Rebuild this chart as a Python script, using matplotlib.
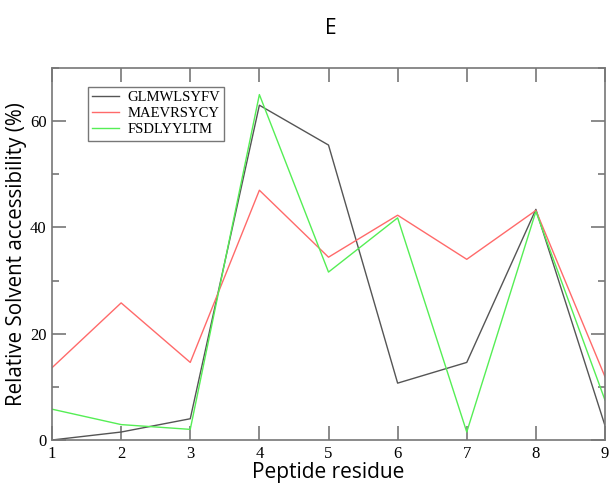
import matplotlib
matplotlib.use("Agg")
import matplotlib.pyplot as plt
from matplotlib.ticker import MultipleLocator

residues = [1, 2, 3, 4, 5, 6, 7, 8, 9]
glmwlsyfv = [0.0, 1.5, 4.0, 63.0, 55.5, 10.7, 14.6, 43.4, 2.7]
maevrsycy = [13.6, 25.8, 14.6, 47.0, 34.4, 42.3, 34.0, 43.2, 11.9]
fsdlyyltm = [5.8, 2.9, 2.0, 65.0, 31.6, 41.8, 1.5, 43.0, 7.5]
series_names = ["GLMWLSYFV", "MAEVRSYCY", "FSDLYYLTM"]
series_colors = ["#555555", "#ff6a6a", "#55ee55"]

fig = plt.figure(figsize=(6.13, 4.97), dpi=100)
ax = fig.add_axes([52/613, 1 - 440/497, (605-52)/613, (440-68)/497])

for vals, name, col in zip([glmwlsyfv, maevrsycy, fsdlyyltm], series_names, series_colors):
    ax.plot(residues, vals, color=col, lw=1.0, label=name)

ax.set_xlim(1, 9)
ax.set_ylim(0, 70)
ax.xaxis.set_major_locator(MultipleLocator(1))
ax.yaxis.set_major_locator(MultipleLocator(20))
ax.yaxis.set_minor_locator(MultipleLocator(10))
ax.tick_params(which="both", direction="in", top=True, right=True, color="#777777")
ax.tick_params(which="major", length=10, width=1.2, labelsize=12, pad=4)
ax.tick_params(which="minor", length=5, width=1.2)
for lab in ax.get_xticklabels() + ax.get_yticklabels():
    lab.set_family("Liberation Serif")
for sp in ax.spines.values():
    sp.set_color("#777777")
    sp.set_linewidth(1.2)

ax.set_xlabel("Peptide residue", fontsize=15, family="Open Sans", labelpad=0)
ax.set_ylabel("Relative Solvent accessibility (%)", fontsize=14.8, family="Open Sans", labelpad=2)
fig.text(331/613, 1 - 28/497, "E", fontsize=15, family="Open Sans", ha="center", va="center")

leg = ax.legend(loc="upper left", bbox_to_anchor=(0.065, 0.95), prop={"family": "Liberation Serif", "size": 10.5},
                frameon=True, fancybox=False, borderpad=0.3, labelspacing=0.2, handlelength=1.8,
                handletextpad=0.6, borderaxespad=0)
leg.get_frame().set_edgecolor("#555555")
leg.get_frame().set_linewidth(1.0)

fig.savefig("out.png", dpi=100)
